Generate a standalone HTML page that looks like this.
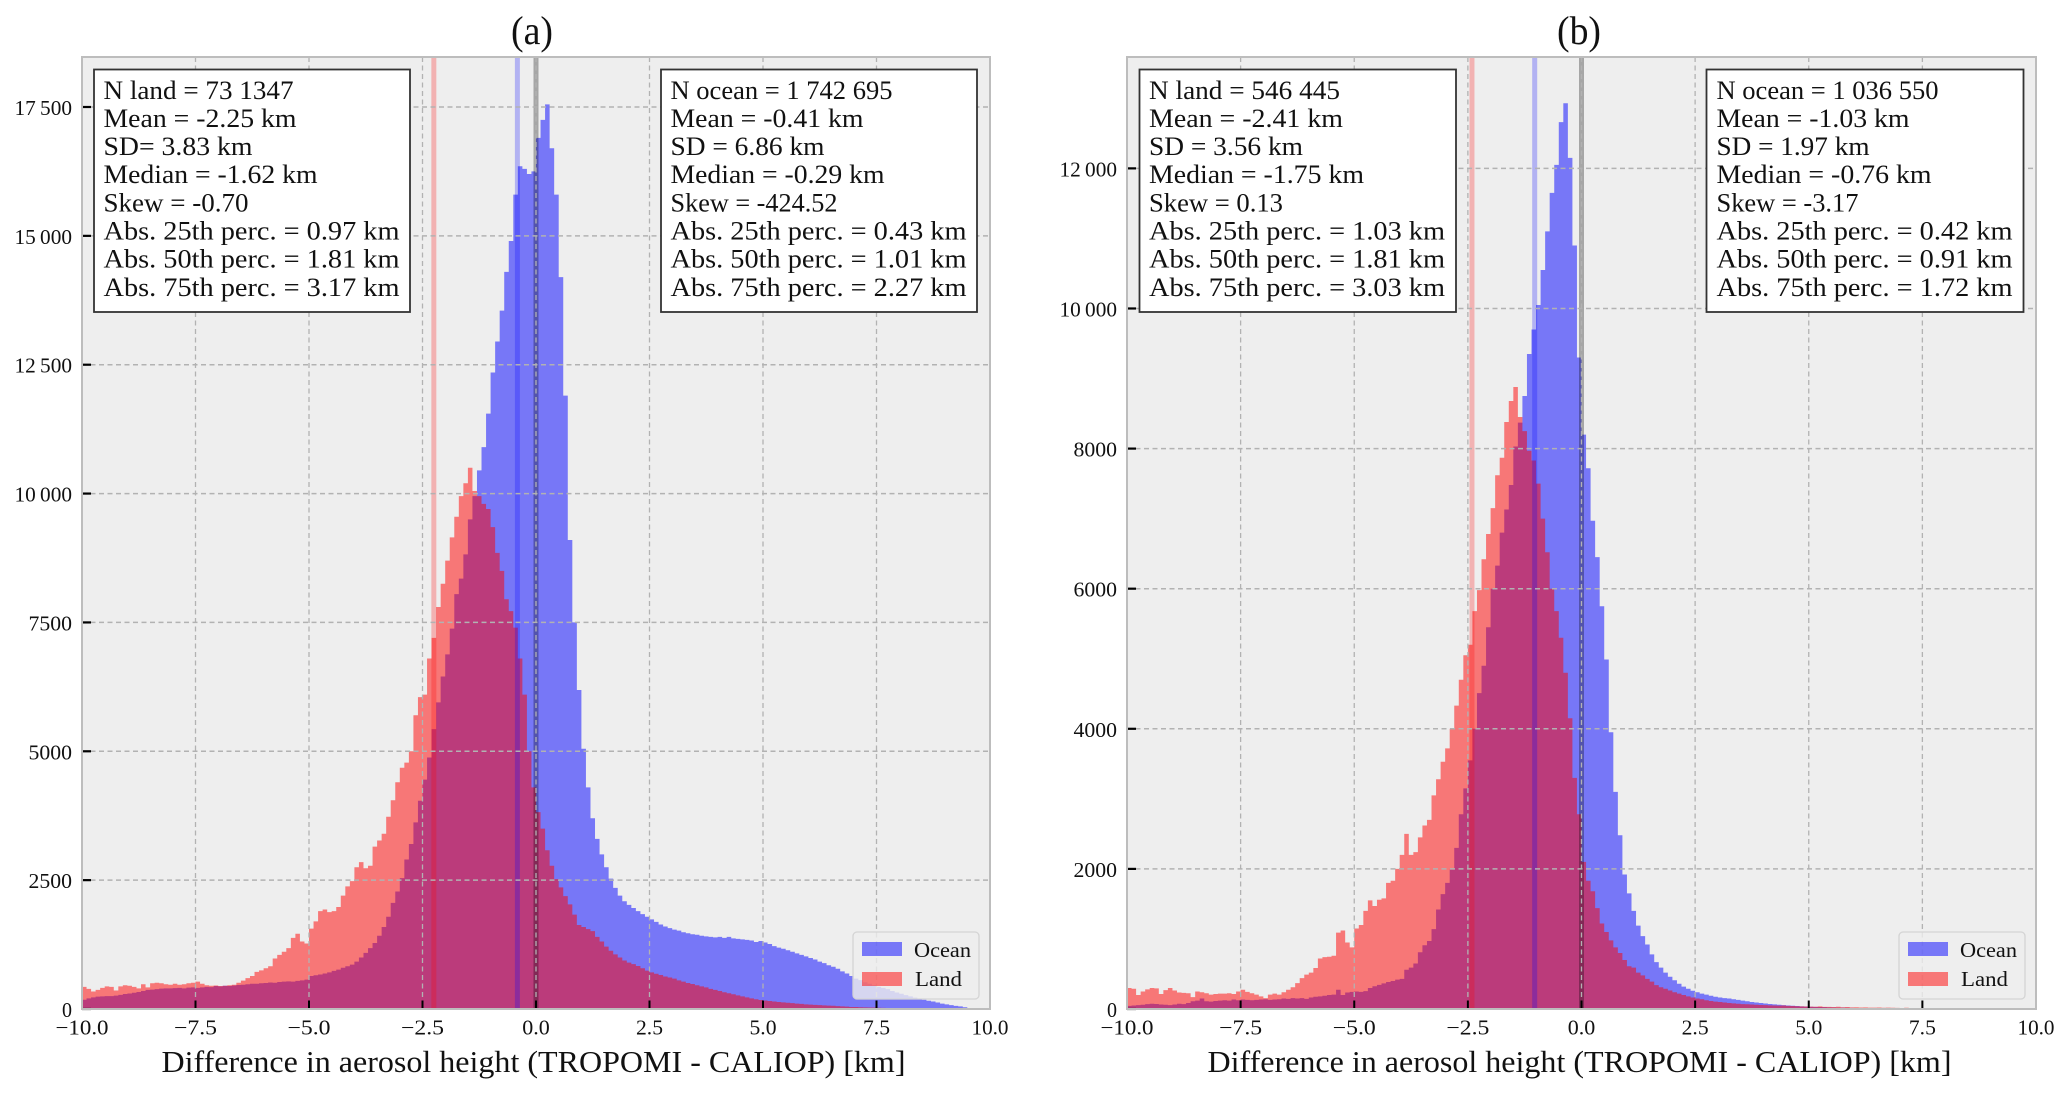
<!DOCTYPE html>
<html lang="en">
<head>
<meta charset="utf-8">
<title>Difference in aerosol height histograms</title>
<style>
html,body{margin:0;padding:0;background:#fff;width:2067px;height:1093px;overflow:hidden}
svg{display:block}
text{font-family:"Liberation Serif","DejaVu Serif",serif;fill:#111}
.st{font-size:26px}
.lg{font-size:21px}
</style>
</head>
<body>
<svg id="fig" xmlns="http://www.w3.org/2000/svg" width="2067" height="1093" viewBox="0 0 2067 1093">
<rect width="2067" height="1093" fill="#fff"/>

<g id="panel-a">
  <rect x="82" y="57" width="908" height="952" fill="#eeeeee"/>
  <g id="marks-a"></g>
  <text x="532" y="44" font-size="40" text-anchor="middle" textLength="42" lengthAdjust="spacingAndGlyphs">(a)</text>
  <text x="161.5" y="1072" font-size="31" textLength="744" lengthAdjust="spacingAndGlyphs">Difference in aerosol height (TROPOMI - CALIOP) [km]</text>
  <g>
    <rect x="853" y="932" width="126" height="67" rx="4" fill="#eeeeee" fill-opacity="0.8" stroke="#d4d4d4" stroke-width="1.3"/>
    <rect x="862" y="942" width="40" height="14" fill="#0000ff" fill-opacity="0.5"/>
    <rect x="862" y="972" width="40" height="14" fill="#ff0000" fill-opacity="0.5"/>
    <text class="lg" x="914" y="957" textLength="57" lengthAdjust="spacingAndGlyphs">Ocean</text>
    <text class="lg" x="915" y="986" textLength="47" lengthAdjust="spacingAndGlyphs">Land</text>
  </g>
  <g>
    <rect x="94" y="69.5" width="316" height="242.5" fill="#fff" stroke="#333" stroke-width="1.8"/>
    <text class="st" x="103.5" y="99" textLength="190" lengthAdjust="spacingAndGlyphs">N land = 73 1347</text>
    <text class="st" x="103.5" y="127" textLength="193" lengthAdjust="spacingAndGlyphs">Mean = -2.25 km</text>
    <text class="st" x="103.5" y="155" textLength="149" lengthAdjust="spacingAndGlyphs">SD= 3.83 km</text>
    <text class="st" x="103.5" y="183" textLength="214" lengthAdjust="spacingAndGlyphs">Median = -1.62 km</text>
    <text class="st" x="103.5" y="211.5" textLength="145" lengthAdjust="spacingAndGlyphs">Skew = -0.70</text>
    <text class="st" x="103.5" y="239.5" textLength="296" lengthAdjust="spacingAndGlyphs">Abs. 25th perc. = 0.97 km</text>
    <text class="st" x="103.5" y="267.5" textLength="296" lengthAdjust="spacingAndGlyphs">Abs. 50th perc. = 1.81 km</text>
    <text class="st" x="103.5" y="296" textLength="296" lengthAdjust="spacingAndGlyphs">Abs. 75th perc. = 3.17 km</text>
  </g>
  <g>
    <rect x="661" y="69.5" width="316" height="242.5" fill="#fff" stroke="#333" stroke-width="1.8"/>
    <text class="st" x="670.5" y="99" textLength="222" lengthAdjust="spacingAndGlyphs">N ocean = 1 742 695</text>
    <text class="st" x="670.5" y="127" textLength="193" lengthAdjust="spacingAndGlyphs">Mean = -0.41 km</text>
    <text class="st" x="670.5" y="155" textLength="154" lengthAdjust="spacingAndGlyphs">SD = 6.86 km</text>
    <text class="st" x="670.5" y="183" textLength="214" lengthAdjust="spacingAndGlyphs">Median = -0.29 km</text>
    <text class="st" x="670.5" y="211.5" textLength="167" lengthAdjust="spacingAndGlyphs">Skew = -424.52</text>
    <text class="st" x="670.5" y="239.5" textLength="296" lengthAdjust="spacingAndGlyphs">Abs. 25th perc. = 0.43 km</text>
    <text class="st" x="670.5" y="267.5" textLength="296" lengthAdjust="spacingAndGlyphs">Abs. 50th perc. = 1.01 km</text>
    <text class="st" x="670.5" y="296" textLength="296" lengthAdjust="spacingAndGlyphs">Abs. 75th perc. = 2.27 km</text>
  </g>
</g>

<g id="panel-b">
  <rect x="1127" y="57" width="909" height="952" fill="#eeeeee"/>
  <g id="marks-b"></g>
  <text x="1579" y="44" font-size="40" text-anchor="middle" textLength="44" lengthAdjust="spacingAndGlyphs">(b)</text>
  <text x="1207.5" y="1072" font-size="31" textLength="744" lengthAdjust="spacingAndGlyphs">Difference in aerosol height (TROPOMI - CALIOP) [km]</text>
  <g>
    <rect x="1899" y="932" width="126" height="67" rx="4" fill="#eeeeee" fill-opacity="0.8" stroke="#d4d4d4" stroke-width="1.3"/>
    <rect x="1908" y="942" width="40" height="14" fill="#0000ff" fill-opacity="0.5"/>
    <rect x="1908" y="972" width="40" height="14" fill="#ff0000" fill-opacity="0.5"/>
    <text class="lg" x="1960" y="957" textLength="57" lengthAdjust="spacingAndGlyphs">Ocean</text>
    <text class="lg" x="1961" y="986" textLength="47" lengthAdjust="spacingAndGlyphs">Land</text>
  </g>
  <g>
    <rect x="1139.5" y="69.5" width="316.5" height="242.5" fill="#fff" stroke="#333" stroke-width="1.8"/>
    <text class="st" x="1149" y="99" textLength="191" lengthAdjust="spacingAndGlyphs">N land = 546 445</text>
    <text class="st" x="1149" y="127" textLength="194" lengthAdjust="spacingAndGlyphs">Mean = -2.41 km</text>
    <text class="st" x="1149" y="155" textLength="154" lengthAdjust="spacingAndGlyphs">SD = 3.56 km</text>
    <text class="st" x="1149" y="183" textLength="215" lengthAdjust="spacingAndGlyphs">Median = -1.75 km</text>
    <text class="st" x="1149" y="211.5" textLength="134" lengthAdjust="spacingAndGlyphs">Skew = 0.13</text>
    <text class="st" x="1149" y="239.5" textLength="296" lengthAdjust="spacingAndGlyphs">Abs. 25th perc. = 1.03 km</text>
    <text class="st" x="1149" y="267.5" textLength="296" lengthAdjust="spacingAndGlyphs">Abs. 50th perc. = 1.81 km</text>
    <text class="st" x="1149" y="296" textLength="296" lengthAdjust="spacingAndGlyphs">Abs. 75th perc. = 3.03 km</text>
  </g>
  <g>
    <rect x="1706.5" y="69.5" width="317" height="242.5" fill="#fff" stroke="#333" stroke-width="1.8"/>
    <text class="st" x="1716.5" y="99" textLength="222" lengthAdjust="spacingAndGlyphs">N ocean = 1 036 550</text>
    <text class="st" x="1716.5" y="127" textLength="193" lengthAdjust="spacingAndGlyphs">Mean = -1.03 km</text>
    <text class="st" x="1716.5" y="155" textLength="153" lengthAdjust="spacingAndGlyphs">SD = 1.97 km</text>
    <text class="st" x="1716.5" y="183" textLength="215" lengthAdjust="spacingAndGlyphs">Median = -0.76 km</text>
    <text class="st" x="1716.5" y="211.5" textLength="142" lengthAdjust="spacingAndGlyphs">Skew = -3.17</text>
    <text class="st" x="1716.5" y="239.5" textLength="296" lengthAdjust="spacingAndGlyphs">Abs. 25th perc. = 0.42 km</text>
    <text class="st" x="1716.5" y="267.5" textLength="296" lengthAdjust="spacingAndGlyphs">Abs. 50th perc. = 0.91 km</text>
    <text class="st" x="1716.5" y="296" textLength="296" lengthAdjust="spacingAndGlyphs">Abs. 75th perc. = 1.72 km</text>
  </g>
</g>
</svg>

<script>
// Bins: 200 bins of 0.1 km spanning -10..10 km
const binStart = -10;
const binWidth = 0.1;

const oceanA = [
180,205,225,240,245,250,250,260,275,290,
300,315,330,350,370,375,385,395,400,400,
405,410,400,415,420,410,420,430,425,445,
440,450,445,455,465,470,480,490,490,500,
505,515,510,525,530,535,530,545,555,570,
640,655,670,690,710,740,765,800,830,860,
920,1000,1090,1180,1280,1420,1590,1790,2060,2280,
2540,2900,3200,3620,4040,4450,4880,5430,5950,6450,
6880,7380,8050,8350,8820,9500,9950,10450,10900,11550,
12350,12950,13550,14300,14900,15800,16350,16300,16200,16250,
16900,17250,17550,16700,15800,14200,11900,9100,7500,6190,
5050,4300,3700,3300,3000,2750,2530,2350,2200,2090,
2020,1960,1900,1840,1790,1740,1690,1640,1600,1570,
1540,1520,1490,1470,1450,1440,1420,1410,1400,1390,
1400,1380,1400,1370,1360,1350,1340,1330,1300,1320,
1290,1260,1220,1190,1170,1140,1110,1080,1050,1020,
990,960,920,890,850,820,780,730,690,640,
590,560,520,490,460,430,410,385,350,320,
295,270,245,220,200,180,160,145,125,105,
90,75,60,50,35,20,12,8,5,3];

const landA = [
430,390,340,370,410,440,430,360,440,460,
450,430,400,480,420,500,510,500,480,470,
490,470,480,500,510,530,490,460,450,455,
445,450,460,470,510,550,600,640,720,750,
790,830,980,1050,1110,1180,1380,1460,1310,1270,
1560,1700,1900,1930,1880,1900,1980,2200,2380,2480,
2750,2850,2730,2780,3150,3270,3400,3730,4050,4400,
4680,4780,5000,5700,6050,6100,6800,7200,7800,8250,
8700,9150,9550,9950,10200,10500,10050,9950,9800,9700,
9350,8850,8500,7950,7720,7400,6800,6100,5000,4300,
3820,3500,3080,2780,2520,2360,2190,2030,1830,1630,
1590,1550,1510,1400,1310,1210,1130,1060,1000,940,
900,870,835,790,745,710,685,660,630,610,
590,555,530,505,485,460,440,420,390,370,
350,325,305,285,265,245,225,205,190,175,
165,155,145,135,128,122,115,105,100,90,
85,80,75,70,65,62,55,50,45,40,
38,35,32,30,28,25,22,20,18,15,
14,13,12,11,10,9,9,8,7,7,
6,5,5,4,4,3,3,2,2,1];

const oceanB = [
45,50,55,60,70,75,72,65,60,55,
65,75,70,85,110,120,150,110,105,115,
120,125,120,135,125,135,130,125,130,135,
140,130,135,140,150,145,155,150,155,145,
165,175,180,190,200,205,275,200,235,245,
250,245,255,300,325,345,365,385,400,420,
430,560,590,650,810,910,970,1140,1420,1640,
1800,1990,2300,2780,3150,3550,4000,4510,4900,5450,
6000,6330,6800,7130,7480,8030,8370,8750,9350,9700,
10050,10550,11100,11650,12050,12660,12930,12150,10900,9300,
8200,7720,6970,6450,5750,4990,3950,3100,2480,1920,
1650,1400,1190,1040,920,780,670,590,520,460,
410,360,320,290,260,240,220,205,190,175,
165,155,150,140,130,120,110,100,92,85,
78,72,66,60,55,50,46,42,38,35,
32,30,28,26,24,22,20,19,18,16,
15,14,13,12,11,10,9,9,8,7,
7,6,6,5,5,4,4,3,3,3,
2,2,2,2,1,1,1,1,1,1,
1,1,1,0,0,0,0,0,0,0];

const landB = [
300,290,200,250,280,300,295,215,270,300,
265,235,230,225,170,250,240,225,205,215,
220,220,225,215,250,275,245,225,205,180,
155,205,220,205,240,275,310,370,440,490,
520,585,720,740,745,760,1090,1120,950,880,
1150,1200,1400,1550,1470,1560,1580,1800,1830,2000,
2200,2500,2200,2240,2450,2620,2700,3050,3280,3530,
3720,4000,4330,4700,5050,5200,5680,5980,6420,6780,
7150,7620,7870,8380,8680,8880,8450,8250,7970,7830,
7500,7000,6520,6000,5680,5300,4800,4150,3300,2780,
2100,1830,1680,1440,1220,1100,980,880,800,700,
610,590,520,480,430,390,340,310,290,265,
240,220,200,180,165,150,140,125,115,105,
100,92,85,80,75,70,68,65,60,58,
55,52,50,48,50,45,42,40,38,36,
34,32,38,30,30,28,32,25,28,24,
25,22,24,20,20,22,18,20,18,16,
15,18,14,12,14,10,12,10,9,8,
8,7,10,6,5,5,4,3,3,2,
2,2,2,1,1,1,1,1,1,1];

const meansA = [-2.25, -0.41];
const meansB = [-2.41, -1.03];
const referenceLine = [0];

const xTicks = [-10, -7.5, -5, -2.5, 0, 2.5, 5, 7.5, 10];
const xTickLabels = ['\u221210.0', '\u22127.5', '\u22125.0', '\u22122.5', '0.0', '2.5', '5.0', '7.5', '10.0'];
const xTickWidths = [53, 43, 43, 43, 27.5, 27, 27, 27, 37];

const yTicksA = [0, 2500, 5000, 7500, 10000, 12500, 15000, 17500];
const yTickLabelsA = ['0', '2500', '5000', '7500', '10\u2009000', '12\u2009500', '15\u2009000', '17\u2009500'];
const yTicksB = [0, 2000, 4000, 6000, 8000, 10000, 12000];
const yTickLabelsB = ['0', '2000', '4000', '6000', '8000', '10\u2009000', '12\u2009000'];

const yMaxA = 18470;
const yMaxB = 13590;

const NS = 'http://www.w3.org/2000/svg';

function drawPanel(cfg) {
  const root = document.getElementById(cfg.rootId);
  const sx = function (v) { return cfg.left + (v + 10) / 20 * (cfg.right - cfg.left); };
  const sy = function (v) { return cfg.bottom - v / cfg.yMax * (cfg.bottom - cfg.top); };

  function histPath(values) {
    let d = 'M' + sx(binStart).toFixed(2) + ' ' + cfg.bottom;
    for (let i = 0; i < values.length; i++) {
      const x0 = sx(binStart + i * binWidth).toFixed(2);
      const x1 = sx(binStart + (i + 1) * binWidth).toFixed(2);
      const y = sy(values[i]).toFixed(2);
      d += 'L' + x0 + ' ' + y + 'L' + x1 + ' ' + y;
    }
    d += 'L' + sx(binStart + values.length * binWidth).toFixed(2) + ' ' + cfg.bottom + 'Z';
    return d;
  }

  const ocean = document.createElementNS(NS, 'path');
  ocean.setAttribute('d', histPath(cfg.ocean));
  ocean.setAttribute('fill', '#0000ff');
  ocean.setAttribute('fill-opacity', '0.5');
  
  
  root.appendChild(ocean);

  const land = document.createElementNS(NS, 'path');
  land.setAttribute('d', histPath(cfg.land));
  land.setAttribute('fill', '#ff0000');
  land.setAttribute('fill-opacity', '0.5');
  
  
  root.appendChild(land);

  const landMean = document.createElementNS(NS, 'line');
  landMean.setAttribute('x1', sx(cfg.means[0]));
  landMean.setAttribute('x2', sx(cfg.means[0]));
  landMean.setAttribute('y1', cfg.top);
  landMean.setAttribute('y2', cfg.bottom);
  landMean.setAttribute('stroke', '#ff0000');
  landMean.setAttribute('stroke-opacity', '0.25');
  landMean.setAttribute('stroke-width', '5');
  
  
  root.appendChild(landMean);

  const oceanMean = document.createElementNS(NS, 'line');
  oceanMean.setAttribute('x1', sx(cfg.means[1]));
  oceanMean.setAttribute('x2', sx(cfg.means[1]));
  oceanMean.setAttribute('y1', cfg.top);
  oceanMean.setAttribute('y2', cfg.bottom);
  oceanMean.setAttribute('stroke', '#0000ff');
  oceanMean.setAttribute('stroke-opacity', '0.25');
  oceanMean.setAttribute('stroke-width', '5');
  
  
  root.appendChild(oceanMean);

  const zero = document.createElementNS(NS, 'line');
  zero.setAttribute('x1', sx(referenceLine[0]));
  zero.setAttribute('x2', sx(referenceLine[0]));
  zero.setAttribute('y1', cfg.top);
  zero.setAttribute('y2', cfg.bottom);
  zero.setAttribute('stroke', '#000000');
  zero.setAttribute('stroke-opacity', '0.3');
  zero.setAttribute('stroke-width', '5');
  
  
  root.appendChild(zero);

  xTicks.forEach(function (v, i) {
    const x = sx(v);
    if (i > 0 && i < xTicks.length - 1) {
      const grid = document.createElementNS(NS, 'line');
      grid.setAttribute('x1', x);
      grid.setAttribute('x2', x);
      grid.setAttribute('y1', cfg.top);
      grid.setAttribute('y2', cfg.bottom);
      grid.setAttribute('stroke', '#b2b2b2');
      grid.setAttribute('stroke-width', '1.3');
      grid.setAttribute('stroke-dasharray', '5 3.5');
      
      
      root.appendChild(grid);
    }
    const tick = document.createElementNS(NS, 'line');
    tick.setAttribute('x1', x);
    tick.setAttribute('x2', x);
    tick.setAttribute('y1', cfg.bottom - 8.5);
    tick.setAttribute('y2', cfg.bottom);
    tick.setAttribute('stroke', '#000');
    tick.setAttribute('stroke-width', '2');
    
    
    root.appendChild(tick);

    const label = document.createElementNS(NS, 'text');
    label.textContent = xTickLabels[i];
    label.setAttribute('x', x);
    label.setAttribute('y', 1034.5);
    label.setAttribute('font-size', '21');
    label.setAttribute('text-anchor', 'middle');
    label.setAttribute('textLength', xTickWidths[i]);
    label.setAttribute('lengthAdjust', 'spacingAndGlyphs');
    
    
    root.appendChild(label);
  });

  cfg.yTicks.forEach(function (v, i) {
    const y = sy(v);
    if (i > 0) {
      const grid = document.createElementNS(NS, 'line');
      grid.setAttribute('x1', cfg.left);
      grid.setAttribute('x2', cfg.right);
      grid.setAttribute('y1', y);
      grid.setAttribute('y2', y);
      grid.setAttribute('stroke', '#b2b2b2');
      grid.setAttribute('stroke-width', '1.5');
      grid.setAttribute('stroke-dasharray', '5 3.5');
      
      
      root.appendChild(grid);
    }
    const tick = document.createElementNS(NS, 'line');
    tick.setAttribute('x1', cfg.left);
    tick.setAttribute('x2', cfg.left + 9);
    tick.setAttribute('y1', y);
    tick.setAttribute('y2', y);
    tick.setAttribute('stroke', '#000');
    tick.setAttribute('stroke-width', '2.2');
    
    
    root.appendChild(tick);

    const label = document.createElementNS(NS, 'text');
    const txt = cfg.yTickLabels[i];
    label.textContent = txt;
    label.setAttribute('x', cfg.left - 10);
    label.setAttribute('y', y + 8);
    label.setAttribute('font-size', '21');
    label.setAttribute('text-anchor', 'end');
    label.setAttribute('textLength', txt.length >= 6 ? 57.5 : (txt.length === 4 ? 43.5 : 10));
    label.setAttribute('lengthAdjust', 'spacingAndGlyphs');
    
    
    root.appendChild(label);
  });

  const frame = document.createElementNS(NS, 'rect');
  frame.setAttribute('x', cfg.left);
  frame.setAttribute('y', cfg.top);
  frame.setAttribute('width', cfg.right - cfg.left);
  frame.setAttribute('height', cfg.bottom - cfg.top);
  frame.setAttribute('fill', 'none');
  frame.setAttribute('stroke', '#bdbdbd');
  frame.setAttribute('stroke-width', '2');
  
  
  root.appendChild(frame);
}

drawPanel({rootId: 'marks-a', left: 82, right: 990, top: 57, bottom: 1009, yMax: yMaxA,
  ocean: oceanA, land: landA, means: meansA, yTicks: yTicksA, yTickLabels: yTickLabelsA});
drawPanel({rootId: 'marks-b', left: 1127, right: 2036, top: 57, bottom: 1009, yMax: yMaxB,
  ocean: oceanB, land: landB, means: meansB, yTicks: yTicksB, yTickLabels: yTickLabelsB});
</script>
</body>
</html>
